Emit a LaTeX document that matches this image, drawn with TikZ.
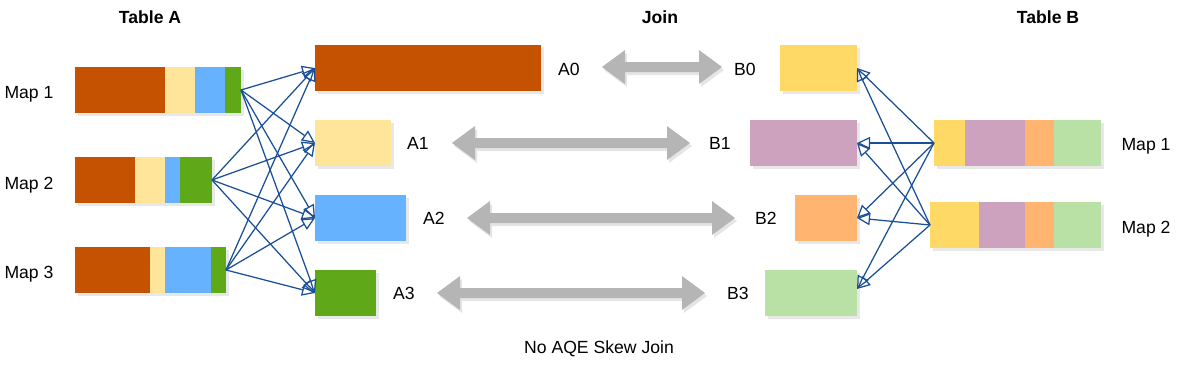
\documentclass[tikz,border=0pt]{standalone}
\usepackage{fontspec}
\setmainfont{Liberation Sans}
\usetikzlibrary{arrows.meta,shadows}
\definecolor{cBrown}{HTML}{C55200}
\definecolor{cLYel}{HTML}{FFE599}
\definecolor{cBlue}{HTML}{66B2FF}
\definecolor{cGreen}{HTML}{5FA818}
\definecolor{cYel}{HTML}{FFD966}
\definecolor{cPurp}{HTML}{CDA2BE}
\definecolor{cOra}{HTML}{FFB570}
\definecolor{cLGreen}{HTML}{B9E0A5}
\definecolor{cLink}{HTML}{1A4F97}
\definecolor{cJoin}{HTML}{B5B5B5}
\begin{document}
\begin{tikzpicture}[x=1pt,y=-1pt,
  box/.style={inner sep=0, outer sep=0, minimum height=46pt, anchor=north west,
    drop shadow={shadow xshift=2.5pt, shadow yshift=-3pt, opacity=0.18}},
  bar/.style={box, fill=white},
  seg/.style={inner sep=0, outer sep=0, minimum height=46pt, anchor=north west},
  lbl/.style={font=\fontsize{17.6}{20}\selectfont, inner sep=0, text height=12.6pt, text depth=0pt},
  ttl/.style={font=\fontsize{17.6}{20}\selectfont\bfseries, inner sep=0, text height=12.6pt, text depth=0pt},
  link/.style={draw=cLink, line width=1.25pt, -{Triangle[open, length=13pt, width=12pt, line width=1.25pt]}},
]
\useasboundingbox (0,0) rectangle (1194,378);

% titles
\node[ttl] (tA) at (150,17) {Table A};
\node[ttl] (tJ) at (660,17) {Join};
\node[ttl] (tB) at (1048,17) {Table B};
\node[lbl] (cap) at (599,347) {No AQE Skew Join};

% Table A maps
\node[bar, minimum width=166pt] (ma1) at (75,67) {};
\node[seg, fill=cBrown, minimum width=90pt] at (75,67) {};
\node[seg, fill=cLYel, minimum width=30pt] at (165,67) {};
\node[seg, fill=cBlue, minimum width=30pt] at (195,67) {};
\node[seg, fill=cGreen, minimum width=16pt] at (225,67) {};

\node[bar, minimum width=137pt] (ma2) at (75,157) {};
\node[seg, fill=cBrown, minimum width=60pt] at (75,157) {};
\node[seg, fill=cLYel, minimum width=30pt] at (135,157) {};
\node[seg, fill=cBlue, minimum width=15pt] at (165,157) {};
\node[seg, fill=cGreen, minimum width=32pt] at (180,157) {};

\node[bar, minimum width=151pt] (ma3) at (75,247) {};
\node[seg, fill=cBrown, minimum width=75pt] at (75,247) {};
\node[seg, fill=cLYel, minimum width=15pt] at (150,247) {};
\node[seg, fill=cBlue, minimum width=46pt] at (165,247) {};
\node[seg, fill=cGreen, minimum width=15pt] at (211,247) {};

\node[lbl] (lma1) at (29,92) {Map 1};
\node[lbl] (lma2) at (29,183) {Map 2};
\node[lbl] (lma3) at (29,272) {Map 3};

% A partitions
\node[box, fill=cBrown, minimum width=226pt] (A0) at (315,45) {};
\node[box, fill=cLYel, minimum width=76pt] (A1) at (315,120) {};
\node[box, fill=cBlue, minimum width=91pt] (A2) at (315,195) {};
\node[box, fill=cGreen, minimum width=61pt] (A3) at (315,270) {};
\node[lbl] (lA0) at (569,69) {A0};
\node[lbl] (lA1) at (418,143) {A1};
\node[lbl] (lA2) at (434,218) {A2};
\node[lbl] (lA3) at (404,293) {A3};

% B partitions
\node[box, fill=cYel, minimum width=77pt] (B0) at (780,45) {};
\node[box, fill=cPurp, minimum width=107pt] (B1) at (750,120) {};
\node[box, fill=cOra, minimum width=62pt] (B2) at (795,195) {};
\node[box, fill=cLGreen, minimum width=92pt] (B3) at (765,270) {};
\node[lbl] (lB0) at (745,69) {B0};
\node[lbl] (lB1) at (720,143) {B1};
\node[lbl] (lB2) at (766,218) {B2};
\node[lbl] (lB3) at (738,293) {B3};

% Table B maps
\node[bar, minimum width=167pt] (mb1) at (934,120) {};
\node[seg, fill=cYel, minimum width=31pt] at (934,120) {};
\node[seg, fill=cPurp, minimum width=60pt] at (965,120) {};
\node[seg, fill=cOra, minimum width=29pt] at (1025,120) {};
\node[seg, fill=cLGreen, minimum width=47pt] at (1054,120) {};

\node[bar, minimum width=171pt] (mb2) at (930,202) {};
\node[seg, fill=cYel, minimum width=49pt] at (930,202) {};
\node[seg, fill=cPurp, minimum width=46pt] at (979,202) {};
\node[seg, fill=cOra, minimum width=29pt] at (1025,202) {};
\node[seg, fill=cLGreen, minimum width=47pt] at (1054,202) {};

\node[lbl] (lmb1) at (1146,144) {Map 1};
\node[lbl] (lmb2) at (1146,227) {Map 2};

% join arrows (drawn shapes)
\newcommand{\joinarrow}[3]{%
  \fill[black, opacity=0.10] ({#1+2},{#3+3}) -- ++(23,-17) -- ++(0,12) -- ({#2-23+2},{#3-5+3}) -- ++(0,-12) -- ({#2+2},{#3+3})
     -- ({#2-23+2},{#3+17+3}) -- ++(0,-12) -- ({#1+23+2},{#3+5+3}) -- ++(0,12) -- cycle;
  \fill[cJoin] (#1,#3) -- ++(23,-17) -- ++(0,12) -- ({#2-23},{#3-5}) -- ++(0,-12) -- (#2,#3)
     -- ({#2-23},{#3+17}) -- ++(0,-12) -- ({#1+23},{#3+5}) -- ++(0,12) -- cycle;}
\joinarrow{602}{722}{67}
\joinarrow{452}{690}{143}
\joinarrow{467}{735}{218}
\joinarrow{437}{705}{293}

% links Table A
\foreach \s in {ma1,ma2,ma3}{
  \foreach \t in {A0,A1,A2,A3}{
    \draw[link] (\s.east) -- (\t.west);
  }
}
% links Table B
\foreach \s in {mb1,mb2}{
  \draw[link] (\s.west) -- (B0.east);
  \draw[link] (\s.west) -- (B1.east);
  \draw[link] (\s.west) -- (B2.east);
  \draw[link] (\s.west) -- ([yshift=4pt]B3.east);
}
\end{tikzpicture}
\end{document}
